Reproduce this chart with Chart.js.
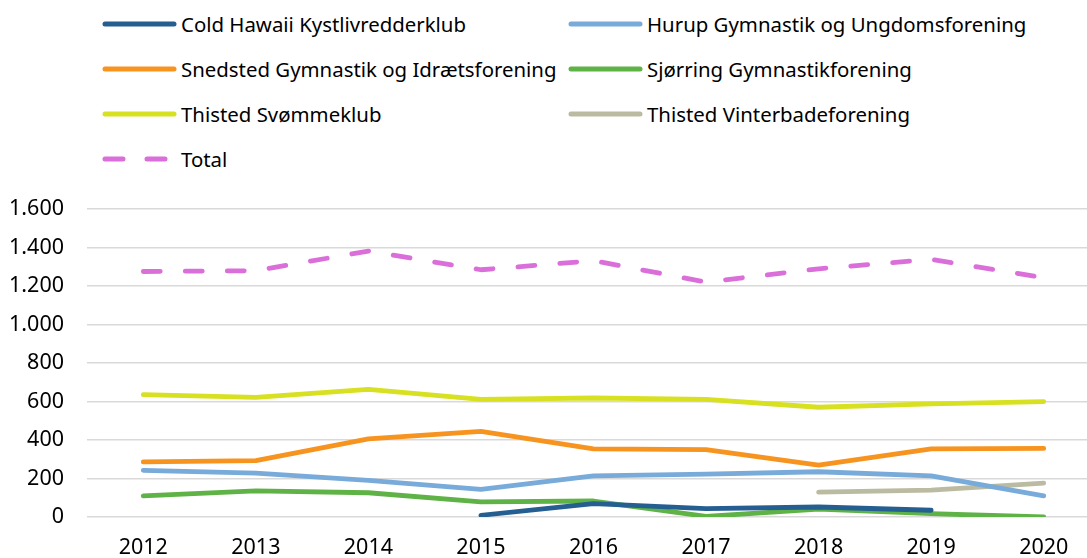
<!DOCTYPE html>
<html>
<head>
<meta charset="utf-8">
<script src="https://cdn.jsdelivr.net/npm/chart.js@4"></script>
<style>
  body { margin: 0; width: 1087px; height: 558px; overflow: hidden; background: #fff; font-family: "Noto Sans", sans-serif; }
  #legend { position: absolute; left: 0; top: 0; width: 1087px; height: 190px; }
  .item { position: absolute; height: 30px; display: flex; align-items: center; font-size: 20.4px; color: #000; white-space: nowrap; }
  .item svg { margin-right: 4px; }
  #wrap { position: absolute; left: 0; top: 173px; width: 1100px; height: 385px; }
</style>
</head>
<body>
<div id="legend"></div>
<div id="wrap"><canvas id="chart"></canvas></div>
<script>
// data
var years = ["2012", "2013", "2014", "2015", "2016", "2017", "2018", "2019", "2020"];
var coldHawaii = [null, null, null, 9, 69, 43, 52, 35, null];
var hurup = [242, 228, 190, 143, 214, 223, 235, 214, 110];
var snedsted = [286, 293, 406, 445, 354, 350, 269, 354, 356];
var sjorring = [110, 136, 126, 79, 83, 3, 41, 17, 0];
var svommeklub = [635, 621, 663, 611, 618, 611, 570, 587, 599];
var vinterbade = [null, null, null, null, null, null, 129, 140, 176];
var total = [1275, 1279, 1381, 1284, 1331, 1220, 1289, 1338, 1243];
var yTicks = [0, 200, 400, 600, 800, 1000, 1200, 1400, 1600];

function line(label, data, color, dash) {
    return {
        label: label,
        data: data,
        borderColor: color,
        backgroundColor: color,
        borderWidth: 4.8,
        borderDash: dash || [],
        borderCapStyle: 'round',
        borderJoinStyle: 'round',
        pointRadius: 0,
        tension: 0,
        spanGaps: false
    };
}

var datasets = [
    line("Cold Hawaii Kystlivredderklub", coldHawaii, "#255e91"),
    line("Hurup Gymnastik og Ungdomsforening", hurup, "#78abda"),
    line("Snedsted Gymnastik og Idrætsforening", snedsted, "#f7941f"),
    line("Sjørring Gymnastikforening", sjorring, "#5fb346"),
    line("Thisted Svømmeklub", svommeklub, "#d7e021"),
    line("Thisted Vinterbadeforening", vinterbade, "#bbbba1"),
    line("Total", total, "#da6fda", [17, 25])
];

// legend in two columns, like the original
var legend = document.getElementById("legend");
datasets.forEach(function (ds, i) {
    var col = i % 2, row = Math.floor(i / 2);
    var div = document.createElement("div");
    div.className = "item";
    div.style.left = (col === 0 ? 102 : 568) + "px";
    div.style.top = (9 + row * 45) + "px";
    var dash = ds.borderDash.length ? 'stroke-dasharray="18 24"' : '';
    div.innerHTML = '<svg width="75" height="10"><line x1="3" y1="5" x2="72" y2="5" stroke="' + ds.borderColor +
        '" stroke-width="5" stroke-linecap="round" ' + dash + '/></svg><span>' + ds.label + '</span>';
    legend.appendChild(div);
});

var ctx = document.getElementById("chart");
var myChart = new Chart(ctx, {
    type: 'line',
    data: { labels: years, datasets: datasets },
    options: {
        responsive: true,
        maintainAspectRatio: false,
        animation: false,
        layout: { padding: { top: 4, right: 0, left: 0, bottom: 0 } },
        plugins: { legend: { display: false }, tooltip: { enabled: false } },
        scales: {
            x: {
                offset: true,
                grid: { display: false, drawTicks: false },
                border: { display: false },
                ticks: { color: "#000", padding: 18, font: { family: "Noto Sans", size: 21.5 } },
                afterFit: function (s) { s.height = 41; }
            },
            y: {
                min: 0,
                max: 1600,
                afterBuildTicks: function (s) { s.ticks = yTicks.map(function (v) { return { value: v }; }); },
                grid: { color: "#d9d9d9", lineWidth: 1.5, drawTicks: false },
                border: { display: false },
                ticks: {
                    color: "#000",
                    padding: 23,
                    font: { family: "Noto Sans", size: 21.5 },
                    callback: function (v) { return v.toString().replace(/\B(?=(\d{3})+(?!\d))/g, "."); }
                },
                afterFit: function (s) { s.width = 87; }
            }
        }
    }
});
</script>
</body>
</html>
